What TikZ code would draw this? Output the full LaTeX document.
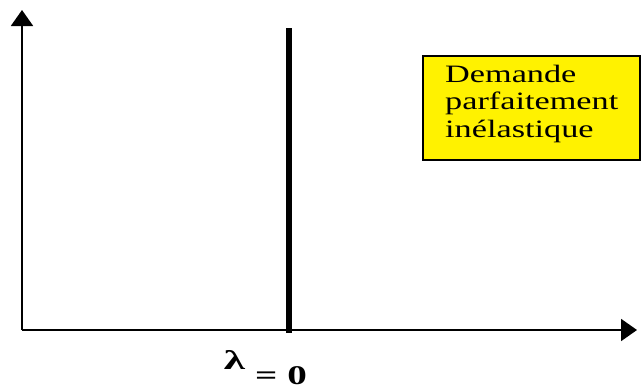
\documentclass[tikz,border=0pt]{standalone}
\usepackage{fontspec}
\setmainfont{Liberation Serif}
\usetikzlibrary{arrows.meta}
\begin{document}
\begin{tikzpicture}[x=1pt,y=-1pt,
  axis/.style={line width=2pt,-{Triangle[width=22pt,length=16pt]}},
  boxtext/.style={anchor=base west,inner sep=0pt,font=\fontsize{25}{27}\selectfont},
  lbl/.style={inner sep=0pt,text depth=0pt}]
\useasboundingbox (0,0) rectangle (642,388);
\coordinate (O) at (22,330);
\coordinate (ytop) at (22,10);
\coordinate (xend) at (637,330);
\draw[axis] (O) -- (ytop);
\draw[axis] (O) -- (xend);
\coordinate (vtop) at (289,28);
\coordinate (vbot) at (289,333);
\draw[line width=6pt] (vtop) -- (vbot);
\node[draw=black,line width=1.5pt,fill=yellow,minimum width=217pt,minimum height=104pt,inner sep=0pt] (box) at (531.5,108) {};
\node[boxtext] (t1) at (445,82) {\scalebox{1.37}[1]{Demande}};
\node[boxtext] (t2) at (445,109.5) {\scalebox{1.37}[1]{parfaitement}};
\node[boxtext] (t3) at (445,137) {\scalebox{1.37}[1]{inélastique}};
\node[lbl,anchor=base,font=\fontsize{27}{27}\selectfont\bfseries] (lam) at (234.5,369) {\scalebox{1.6}[1]{λ}};
\node[lbl,anchor=base west,font=\fontsize{27}{27}\selectfont\bfseries] (eq) at (255,384) {\scalebox{1.45}[1]{= 0}};
\end{tikzpicture}
\end{document}
